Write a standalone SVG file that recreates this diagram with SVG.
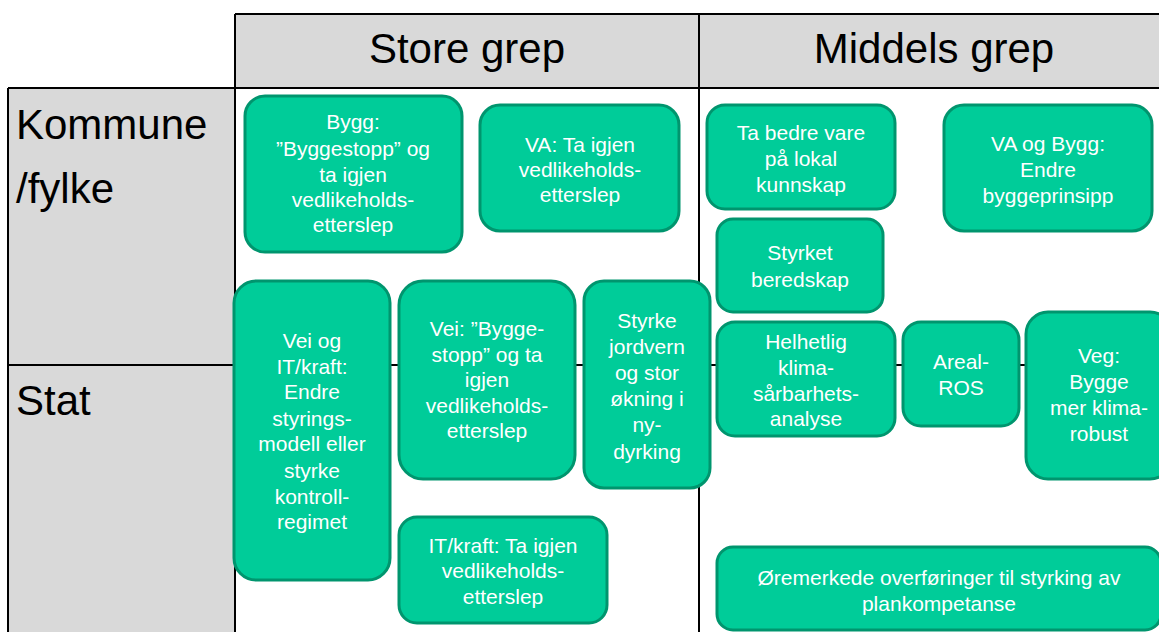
<svg xmlns="http://www.w3.org/2000/svg" width="1159" height="632" viewBox="0 0 1159 632">
<style>
.hdr{fill:#d9d9d9;stroke:none}
.ln{stroke:#000;stroke-width:2;fill:none}
.big{font-family:"Liberation Sans",Arial,sans-serif;font-size:42px;fill:#000}
.box{fill:#00cc99;stroke:#00956e;stroke-width:3}
.t{font-family:"Liberation Sans",Arial,sans-serif;font-size:21px;fill:#fff;text-anchor:middle}
</style>
<rect width="1159" height="632" fill="#fff"/>
<g id="table">
<rect class="hdr" x="235" y="14" width="924" height="74"/>
<rect class="hdr" x="8" y="88" width="227" height="544"/>
<path class="ln" d="M235 14H1159M8 88H1159M8 365H1159M8 88V632M235 14V632M699 14V632"/>
<text class="big" x="467" y="63" text-anchor="middle">Store grep</text>
<text class="big" x="934" y="63" text-anchor="middle">Middels grep</text>
<text class="big" x="16" y="139">Kommune</text>
<text class="big" x="16" y="203">/fylke</text>
<text class="big" x="16" y="415">Stat</text>
</g>
<g id="n1"><rect class="box" x="245" y="96" width="217" height="156" rx="20"/>
<text class="t" x="353"><tspan x="353" y="129">Bygg:</tspan><tspan x="353" y="156">”Byggestopp” og</tspan><tspan x="353" y="182">ta igjen</tspan><tspan x="353" y="207">vedlikeholds-</tspan><tspan x="353" y="232">etterslep</tspan></text></g>
<g id="n2"><rect class="box" x="480" y="105" width="199" height="126" rx="20"/>
<text class="t"><tspan x="580" y="152">VA: Ta igjen</tspan><tspan x="580" y="177">vedlikeholds-</tspan><tspan x="580" y="202">etterslep</tspan></text></g>
<g id="n3"><rect class="box" x="707" y="105" width="188" height="104" rx="18"/>
<text class="t"><tspan x="801" y="140">Ta bedre vare</tspan><tspan x="801" y="166">på lokal</tspan><tspan x="801" y="192">kunnskap</tspan></text></g>
<g id="n4"><rect class="box" x="944" y="105" width="208" height="126" rx="20"/>
<text class="t"><tspan x="1048" y="151">VA og Bygg:</tspan><tspan x="1048" y="177">Endre</tspan><tspan x="1048" y="203">byggeprinsipp</tspan></text></g>
<g id="n5"><rect class="box" x="717" y="219" width="166" height="93" rx="16"/>
<text class="t"><tspan x="800" y="260">Styrket</tspan><tspan x="800" y="287">beredskap</tspan></text></g>
<g id="n6"><rect class="box" x="234" y="281" width="156" height="299" rx="22"/>
<text class="t"><tspan x="312" y="348">Vei og</tspan><tspan x="312" y="374">IT/kraft:</tspan><tspan x="312" y="399">Endre</tspan><tspan x="312" y="426">styrings-</tspan><tspan x="312" y="451">modell eller</tspan><tspan x="312" y="478">styrke</tspan><tspan x="312" y="504">kontroll-</tspan><tspan x="312" y="529">regimet</tspan></text></g>
<g id="n7"><rect class="box" x="399" y="281" width="176" height="198" rx="24"/>
<text class="t"><tspan x="487" y="336">Vei: ”Bygge-</tspan><tspan x="487" y="362">stopp” og ta</tspan><tspan x="487" y="387">igjen</tspan><tspan x="487" y="413">vedlikeholds-</tspan><tspan x="487" y="438">etterslep</tspan></text></g>
<g id="n8"><rect class="box" x="584" y="281" width="126" height="207" rx="20"/>
<text class="t"><tspan x="647" y="328">Styrke</tspan><tspan x="647" y="354">jordvern</tspan><tspan x="647" y="380">og stor</tspan><tspan x="647" y="406">økning i</tspan><tspan x="647" y="432">ny-</tspan><tspan x="647" y="459">dyrking</tspan></text></g>
<g id="n9"><rect class="box" x="399" y="517" width="208" height="106" rx="18"/>
<text class="t"><tspan x="503" y="553">IT/kraft: Ta igjen</tspan><tspan x="503" y="578">vedlikeholds-</tspan><tspan x="503" y="604">etterslep</tspan></text></g>
<g id="n10"><rect class="box" x="717" y="322" width="178" height="114" rx="18"/>
<text class="t"><tspan x="806" y="349">Helhetlig</tspan><tspan x="806" y="375">klima-</tspan><tspan x="806" y="401">sårbarhets-</tspan><tspan x="806" y="426">analyse</tspan></text></g>
<g id="n11"><rect class="box" x="903" y="322" width="116" height="104" rx="18"/>
<text class="t"><tspan x="961" y="369">Areal-</tspan><tspan x="961" y="395">ROS</tspan></text></g>
<g id="n12"><rect class="box" x="1026" y="312" width="146" height="167" rx="22"/>
<text class="t"><tspan x="1099" y="363">Veg:</tspan><tspan x="1099" y="389">Bygge</tspan><tspan x="1099" y="415">mer klima-</tspan><tspan x="1099" y="441">robust</tspan></text></g>
<g id="n13"><rect class="box" x="717" y="547" width="444" height="83" rx="16"/>
<text class="t"><tspan x="939" y="585">Øremerkede overføringer til styrking av</tspan><tspan x="939" y="611">plankompetanse</tspan></text></g>
<g id="connectors"></g>
</svg>
